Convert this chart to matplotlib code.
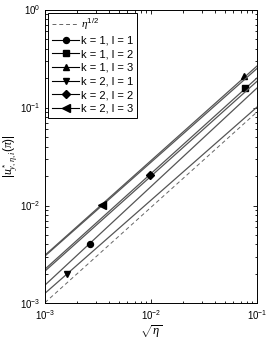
import matplotlib
matplotlib.use('Agg')
import matplotlib.pyplot as plt

plt.rcParams['font.family'] = ['Liberation Sans', 'DejaVu Sans']
plt.rcParams['mathtext.fontset'] = 'custom'
plt.rcParams['mathtext.rm'] = 'Liberation Sans'
plt.rcParams['mathtext.it'] = 'Liberation Serif:italic'
plt.rcParams['mathtext.bf'] = 'Liberation Sans:bold'

# line end points (sqrt(eta) = 1e-3 and 1e-1)
x_ends = [1e-3, 1e-1]
ref_line = [1.02e-3, 0.09]

labels = ['k = 1, l = 1', 'k = 1, l = 2', 'k = 1, l = 3',
          'k = 2, l = 1', 'k = 2, l = 2', 'k = 2, l = 3']
markers = ['o', 's', '^', 'v', 'D', '<']
line_y = [
    [1.54e-3, 0.158],   # k=1 l=1
    [2.24e-3, 0.200],   # k=1 l=2
    [3.11e-3, 0.265],   # k=1 l=3
    [1.27e-3, 0.101],   # k=2 l=1
    [2.14e-3, 0.185],   # k=2 l=2
    [3.05e-3, 0.250],   # k=2 l=3
]
# one marker per curve
mark_x = [2.65e-3, 0.0769, 0.0748, 1.6e-3, 9.7e-3, 3.42e-3]
mark_y = [4.0e-3, 0.157, 0.21, 2.0e-3, 0.0205, 1.02e-2]
mark_size = [4.3, 4, 5, 5, 4, 5.5]

fig = plt.figure(figsize=(2.66, 3.41), dpi=100)
ax = fig.add_axes([0.169, 0.110, 0.797, 0.862])

ax.plot(x_ends, ref_line, '--', color='#666666', lw=0.7, dashes=(4, 3),
        label=r'$\eta^{1/2}$')
for i in range(len(labels)):
    ax.plot(x_ends, line_y[i], '-', color='#555555', lw=0.9)
    ax.plot(mark_x[i], mark_y[i], linestyle='none', marker=markers[i],
            color='black', ms=mark_size[i])
    # legend proxy
    ax.plot([], [], '-', color='black', lw=0.8, marker=markers[i],
            ms=mark_size[i], label=labels[i])

ax.set_xscale('log')
ax.set_yscale('log')
ax.set_xlim(1e-3, 1e-1)
ax.set_ylim(1e-3, 1e0)
ax.tick_params(which='both', direction='in', top=True, right=True,
               labelsize=7, width=0.6)
ax.tick_params(which='major', length=3)
ax.tick_params(which='minor', length=1.8)
for s in ax.spines.values():
    s.set_linewidth(0.7)

ax.set_xlabel(r'$\sqrt{\eta}$', fontsize=9, labelpad=1)
ax.set_ylabel(r'$|u^*_{y,\eta,i}(\pi)|$', fontsize=8.5, labelpad=0)

leg = ax.legend(loc='upper left', fontsize=8, handlelength=2.4,
                labelspacing=0.33, borderpad=0.35, handletextpad=0.2,
                fancybox=False, framealpha=1, edgecolor='black',
                borderaxespad=0.3)
leg.get_frame().set_linewidth(0.7)

fig.savefig('out.png', dpi=100)
